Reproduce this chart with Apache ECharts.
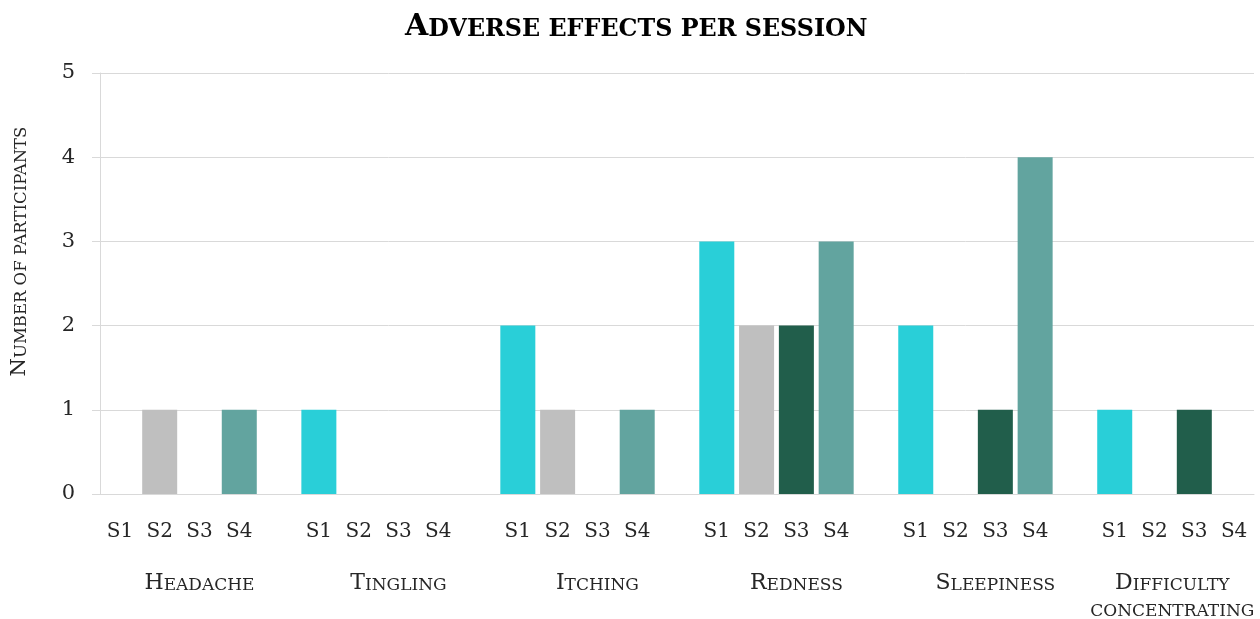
<!DOCTYPE html>
<html><head><meta charset="utf-8">
<script src="https://cdn.jsdelivr.net/npm/echarts@6/dist/echarts.min.js"></script>
<style>html,body{margin:0;padding:0;background:#fff}#chart{width:1260px;height:619px}</style>
</head><body><div id="chart"></div>
<script>
// ---- data ----
const titleText = 'Adverse effects per session';
const yAxisTitle = 'Number of participants';
const categories = ['Headache', 'Tingling', 'Itching', 'Redness', 'Sleepiness', 'Difficulty concentrating'];
const sessions = ['S1', 'S2', 'S3', 'S4'];
const s1 = [0, 1, 2, 3, 2, 1];
const s2 = [1, 0, 1, 2, 0, 0];
const s3 = [0, 0, 0, 2, 1, 1];
const s4 = [1, 0, 1, 3, 4, 0];
const yTicks = [0, 1, 2, 3, 4, 5];

// ---- build ----
const seriesValues = [s1, s2, s3, s4];
const colors = ['#29CFD8', '#BFBFBF', '#215E4B', '#62A49F'];
const FONT = 'DejaVu Serif';

function smallCaps(text, wrap) {
  let t = text;
  if (wrap && t.length > 15) t = t.replace(' ', '\n');
  const first = t.charAt(0).toUpperCase();
  const rest = t.slice(1).toUpperCase();
  return '{cap|' + first + '}{sc|' + rest.split('\n').join('}\n{sc|') + '}';
}

const slotLabels = [];
const groupSlotLabels = [];
const slotSeries = sessions.map(() => []);
categories.forEach((cat, g) => {
  sessions.forEach((s, si) => {
    slotLabels.push(s);
    groupSlotLabels.push(si === 2 ? cat : '');
    seriesValues.forEach((vals, k) => slotSeries[k].push(k === si ? vals[g] : null));
  });
  if (g < categories.length - 1) {
    slotLabels.push('');
    groupSlotLabels.push('');
    slotSeries.forEach(arr => arr.push(null));
  }
});

const groupAxisData = groupSlotLabels.map((v, i) => {
  if (v === categories[categories.length - 1]) {
    return { value: v, textStyle: { padding: [0, 44, 0, 0] } };
  }
  return v;
});

const chart = echarts.init(document.getElementById('chart'));
chart.setOption({
  animation: false,
  backgroundColor: '#fff',
  title: {
    text: smallCaps(titleText, false),
    left: 405,
    top: 8,
    padding: 0,
    textStyle: {
      rich: {
        cap: { fontFamily: FONT, fontWeight: 'bold', fontSize: 30, color: '#000', lineHeight: 34, verticalAlign: 'bottom' },
        sc: { fontFamily: FONT, fontWeight: 'bold', fontSize: 23.8, color: '#000', lineHeight: 34, verticalAlign: 'bottom' }
      }
    }
  },
  grid: { left: 100, top: 73, width: 1154, height: 421, containLabel: false, outerBoundsMode: 'none' },
  xAxis: [
    {
      type: 'category',
      data: slotLabels,
      axisLine: { lineStyle: { color: '#D9D9D9', width: 1 } },
      axisTick: { show: false },
      axisLabel: { interval: 0, margin: 28, fontFamily: FONT, fontSize: 20, color: '#262626' }
    },
    {
      type: 'category',
      position: 'bottom',
      data: groupAxisData,
      axisLine: { show: false },
      axisTick: { show: false },
      splitLine: { show: false },
      axisLabel: {
        interval: 0,
        margin: 74,
        formatter: v => v ? smallCaps(v, true) : '',
        rich: {
          cap: { fontFamily: FONT, fontSize: 22, color: '#262626', lineHeight: 26, verticalAlign: 'bottom' },
          sc: { fontFamily: FONT, fontSize: 17, color: '#262626', lineHeight: 26, verticalAlign: 'bottom' }
        }
      }
    }
  ],
  yAxis: {
    type: 'value',
    min: yTicks[0],
    max: yTicks[yTicks.length - 1],
    interval: 1,
    name: smallCaps(yAxisTitle, false),
    nameLocation: 'middle',
    nameRotate: 90,
    nameGap: 70,
    nameTextStyle: {
      padding: [0, 0, 0, 64],
      rich: {
        cap: { fontFamily: FONT, fontSize: 21, color: '#262626', lineHeight: 24, verticalAlign: 'bottom' },
        sc: { fontFamily: FONT, fontSize: 16.5, color: '#262626', lineHeight: 24, verticalAlign: 'bottom' }
      }
    },
    axisLine: { show: true, lineStyle: { color: '#D9D9D9' } },
    axisTick: { show: true, length: 8, lineStyle: { color: '#D9D9D9' } },
    splitLine: { lineStyle: { color: '#D9D9D9' } },
    axisLabel: { margin: 25, fontFamily: FONT, fontSize: 21, color: '#262626' }
  },
  series: sessions.map((s, k) => ({
    name: s,
    type: 'bar',
    xAxisIndex: 0,
    data: slotSeries[k],
    barWidth: 35,
    barGap: '-100%',
    itemStyle: { color: colors[k] }
  }))
});
</script></body></html>
